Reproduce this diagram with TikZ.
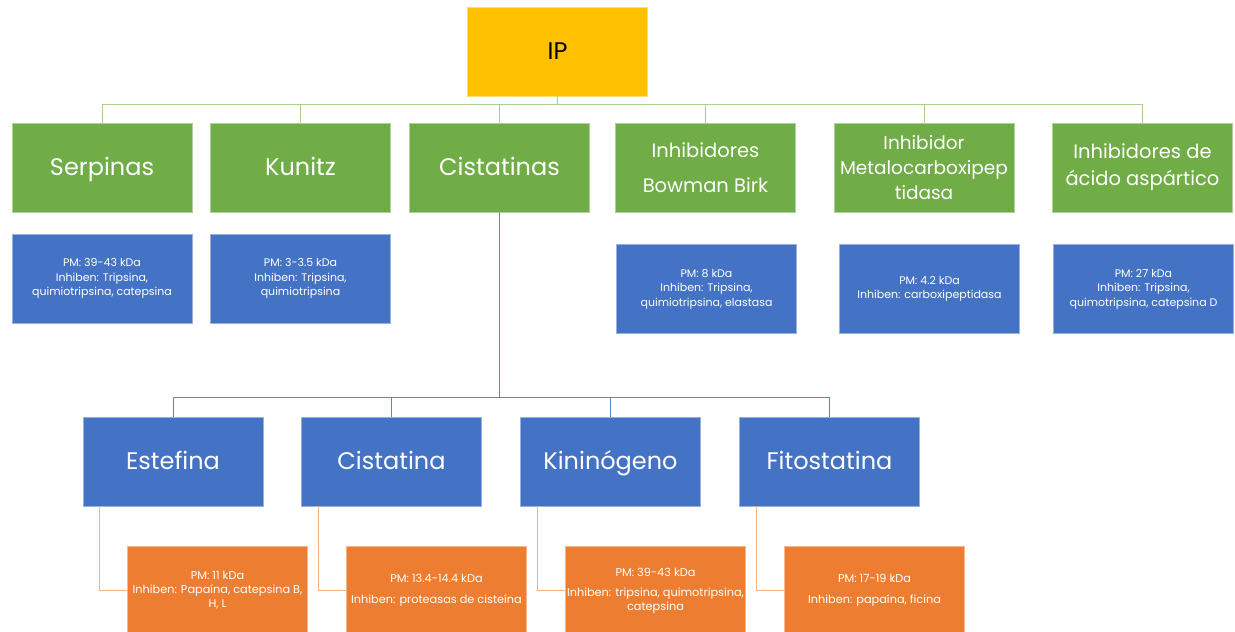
\documentclass[tikz,border=0pt]{standalone}
\usepackage{fontspec}
\setmainfont{Poppins}
\usetikzlibrary{positioning}
\definecolor{ipgold}{HTML}{FFC000}
\definecolor{famgreen}{HTML}{70AD47}
\definecolor{subblue}{HTML}{4472C4}
\definecolor{datorange}{HTML}{ED7D31}
\definecolor{glink}{HTML}{A9D18E}
\definecolor{blink}{HTML}{5B85D0}
\definecolor{olink}{HTML}{F4B183}
\tikzset{
  caja/.style={minimum width=180pt, minimum height=89pt, inner sep=0pt, align=center, text=white, line width=0.6pt},
  familia/.style={caja, fill=famgreen, draw=famgreen!55!white, font=\fontsize{24}{28}\selectfont, text height=20pt, text depth=4pt},
  familiab/.style={caja, fill=famgreen, draw=famgreen!55!white, font=\fontsize{18.5}{25}\selectfont},
  datos/.style={caja, fill=subblue, draw=subblue!55!white, font=\fontsize{11}{14.5}\selectfont},
  tipo/.style={caja, fill=subblue, draw=subblue!55!white, font=\fontsize{24}{28}\selectfont, text height=20pt, text depth=4pt},
  datosb/.style={caja, fill=datorange, draw=datorange!55!white, font=\fontsize{11.3}{14}\selectfont},
  gline/.style={draw=glink, line width=1pt},
  bline/.style={draw=blink, line width=1pt},
  oline/.style={draw=olink, line width=1pt}
}
\begin{document}
\begin{tikzpicture}[x=1pt,y=-1pt]
\useasboundingbox (0,0) rectangle (1235,632);

% raiz
\node[caja, fill=ipgold, draw=ipgold!55!white, text=black, font=\fontsize{24}{28}\selectfont] (ip) at (557.5,51.5) {IP};

% familias
\node[familia] (serp) at (102,167.5) {Serpinas};
\node[familia] (kun) at (300.5,167.5) {Kunitz};
\node[familia] (cist) at (499.5,167.5) {Cistatinas};
\node[familiab, font=\fontsize{19.5}{35}\selectfont] (bbi) at (705.5,167.5) {Inhibidores\\Bowman Birk};
\node[familiab] (meta) at (924,167.5) {Inhibidor\\Metalocarboxipep\\tidasa};
\node[familiab, font=\fontsize{19.5}{27}\selectfont] (asp) at (1142.5,167.5) {Inhibidores de\\ácido aspártico};

\foreach \hijo in {serp,kun,cist,bbi,meta,asp}
  \draw[gline] (ip.south) -- ++(0,-8pt) -| (\hijo.north);

% datos de las familias
\node[datos] (dserp) at (102,278.5) {PM: 39-43 kDa\\Inhiben: Tripsina,\\quimiotripsina, catepsina};
\node[datos] (dkun) at (300.5,278.5) {PM: 3-3.5 kDa\\Inhiben: Tripsina,\\quimiotripsina};
\node[datos] (dbbi) at (706.5,289) {PM: 8 kDa\\Inhiben: Tripsina,\\quimiotripsina, elastasa};
\node[datos] (dmeta) at (929.5,289) {PM: 4.2 kDa\\Inhiben: carboxipeptidasa};
\node[datos] (dasp) at (1143.5,289) {PM: 27 kDa\\Inhiben: Tripsina,\\quimotripsina, catepsina D};

% cistatinas
\node[tipo] (est) at (173,461.5) {Estefina};
\node[tipo] (cis) at (391.5,461.5) {Cistatina};
\node[tipo] (kin) at (610.5,461.5) {Kininógeno};
\node[tipo] (fit) at (829.5,461.5) {Fitostatina};

\foreach \hijo in {est,cis,kin,fit}
  \draw[bline] (cist.south) -- ++(0,-185pt) -| (\hijo.north);

% datos de las cistatinas
\node[datosb] (dest) at (217.5,590.5) {PM: 11 kDa\\Inhiben: Papaína, catepsina B,\\H, L};
\node[datosb] (dcis) at (436.5,590.5) {PM: 13.4-14.4 kDa\\[7pt]Inhiben: proteasas de cisteína};
\node[datosb] (dkin) at (655.5,590.5) {PM: 39-43 kDa\\[6pt]Inhiben: tripsina, quimotripsina,\\catepsina};
\node[datosb] (dfit) at (874.5,590.5) {PM: 17-19 kDa\\[7pt]Inhiben: papaína, ficina};

\draw[oline] ([xshift=17pt]est.south west) |- (dest.west);
\draw[oline] ([xshift=17pt]cis.south west) |- (dcis.west);
\draw[oline] ([xshift=17pt]kin.south west) |- (dkin.west);
\draw[oline] ([xshift=17pt]fit.south west) |- (dfit.west);

\end{tikzpicture}
\end{document}
